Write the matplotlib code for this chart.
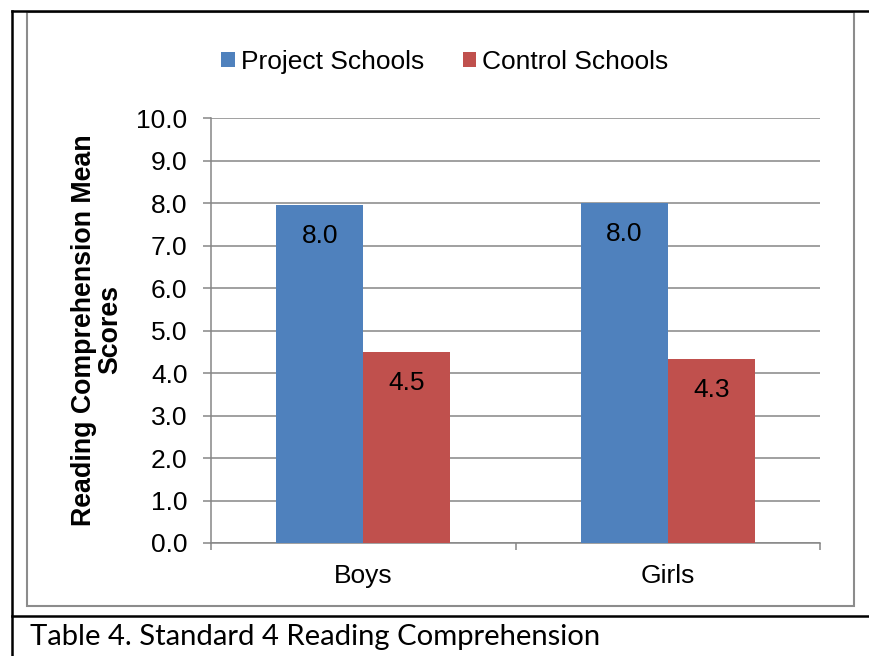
import matplotlib
matplotlib.use("Agg")
import matplotlib.pyplot as plt
from matplotlib.lines import Line2D
from matplotlib.patches import Rectangle, Patch
import numpy as np

categories = ["Boys", "Girls"]
series_names = ["Project Schools", "Control Schools"]
project_values = [7.97, 8.01]
control_values = [4.51, 4.34]
y_ticks = [0, 1, 2, 3, 4, 5, 6, 7, 8, 9, 10]
caption = "Table 4. Standard 4 Reading Comprehension"
ylabel = "Reading Comprehension Mean\nScores"

BLUE = "#4F81BD"
RED = "#C0504D"
GRID = "#868686"

plt.rcParams["font.family"] = ["Liberation Sans", "DejaVu Sans"]

W, H = 869, 656
fig = plt.figure(figsize=(W / 100, H / 100), dpi=100)

def fx(px):
    return px / W

def fy(py):
    return 1 - py / H

ax = fig.add_axes([fx(211), fy(543), fx(820) - fx(211), fy(118.4) - fy(543)])

x = np.arange(len(categories))
w = 0.286
b1 = ax.bar(x - w / 2, project_values, w, color=BLUE, label=series_names[0], zorder=3)
b2 = ax.bar(x + w / 2, control_values, w, color=RED, label=series_names[1], zorder=3)

for bars in (b1, b2):
    for bar in bars:
        h = bar.get_height()
        ax.annotate(f"{h:.1f}", xy=(bar.get_x() + bar.get_width() / 2, h),
                    xytext=(0, -22.5), textcoords="offset points",
                    ha="center", va="center", fontsize=19, color="black", zorder=4)

ax.set_xlim(-0.5, len(categories) - 0.5)
ax.set_ylim(0, 10)
ax.set_yticks(y_ticks)
ax.set_yticklabels([f"{v:.1f}" for v in y_ticks])
ax.yaxis.grid(True, color=GRID, linewidth=1.1, zorder=0)
ax.set_axisbelow(True)

ax.set_xticks(np.arange(len(categories) + 1) - 0.5)
ax.set_xticklabels([])
ax.set_xticks(x, minor=True)
ax.set_xticklabels(categories, minor=True)
ax.tick_params(axis="x", which="major", direction="out", length=5, width=1.1, color=GRID)
ax.tick_params(axis="x", which="minor", length=0, pad=15, labelsize=19)
ax.tick_params(axis="y", direction="out", length=5.5, width=1.1, color=GRID, pad=11.5, labelsize=19)

for s in ["top", "right"]:
    ax.spines[s].set_visible(False)
for s in ["left", "bottom"]:
    ax.spines[s].set_color(GRID)
    ax.spines[s].set_linewidth(1.1)

fig.text(fx(97), fy(330), ylabel, rotation=90, ha="center", va="center",
         fontsize=19.3, fontweight="bold", linespacing=1.0, multialignment="center")

handles = [Patch(facecolor=BLUE, edgecolor="none"), Patch(facecolor=RED, edgecolor="none")]
fig.legend(handles, series_names, loc="center", bbox_to_anchor=(fx(445), fy(62)),
           ncol=2, frameon=False, fontsize=19, handlelength=0.5, handleheight=0.5,
           handletextpad=0.25, columnspacing=1.45)

# chart area border (gray)
fig.add_artist(Rectangle((fx(27), fy(606)), fx(854) - fx(27), fy(12) - fy(606),
                         transform=fig.transFigure, fill=False, edgecolor="#8c8c8c", linewidth=1.5))
# outer table lines (black)
fig.add_artist(Line2D([fx(12), 1], [fy(11), fy(11)], transform=fig.transFigure, color="black", linewidth=1.8))
fig.add_artist(Line2D([fx(12), fx(12)], [fy(11), 0], transform=fig.transFigure, color="black", linewidth=1.8))
fig.add_artist(Line2D([fx(12), 1], [fy(616), fy(616)], transform=fig.transFigure, color="black", linewidth=1.8))

fig.text(fx(30), fy(637), caption, ha="left", va="center", fontsize=21.1,
         family=["Lato", "DejaVu Sans"])

fig.savefig("out.png", dpi=100)
